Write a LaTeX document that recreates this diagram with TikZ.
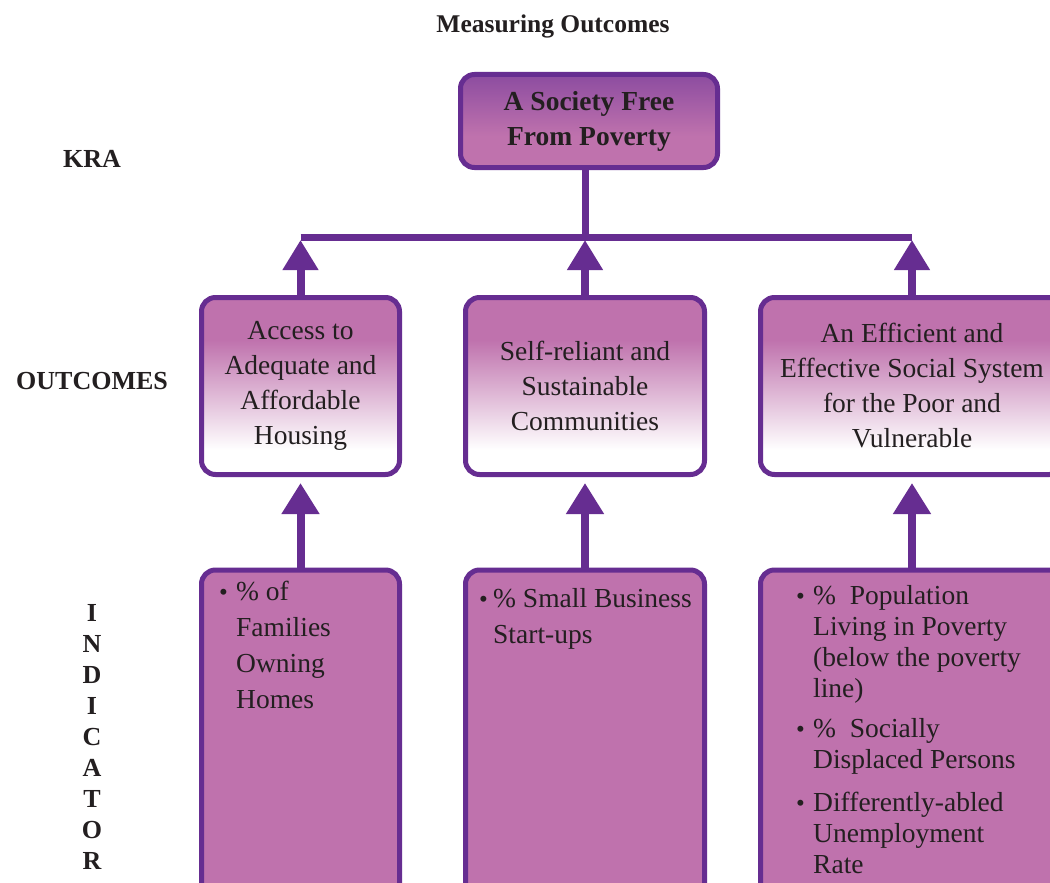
\documentclass[tikz,border=0pt]{standalone}
\usepackage{fontspec}
\setmainfont{Liberation Serif}
\usetikzlibrary{arrows.meta}

\definecolor{edge}{RGB}{102,45,145}
\definecolor{pinkfill}{RGB}{191,114,173}
\definecolor{darkfill}{RGB}{140,76,160}
\definecolor{ink}{RGB}{35,31,32}

% outcome boxes: pink on top, fading to white towards the bottom
\pgfdeclareverticalshading{outfade}{100bp}{color(0bp)=(white); color(32bp)=(white); color(63bp)=(pinkfill); color(100bp)=(pinkfill)}
% top box: deeper purple at the top
\pgfdeclareverticalshading{krafade}{100bp}{color(0bp)=(pinkfill); color(42bp)=(pinkfill); color(75bp)=(darkfill); color(100bp)=(darkfill)}

\newcommand\bul[1][16pt]{\makebox[#1][l]{\fontsize{25}{25}\selectfont\textbullet}}

\tikzset{
  box/.style={draw=edge, line width=5pt, rounded corners=14pt, inner sep=0pt},
  outbox/.style={box, shade, shading=outfade, minimum height=177pt, align=center,
    font=\fontsize{27.5}{35}\selectfont, text=ink},
  indbox/.style={box, fill=pinkfill, minimum height=345pt, anchor=north},
  itext/.style={anchor=base west, inner sep=0pt, text=ink},
  lab/.style={anchor=base, inner sep=0pt, text=ink, font=\bfseries\fontsize{26}{31}\selectfont},
  wire/.style={draw=edge, line width=7pt},
  upbig/.style={draw=edge, line width=8pt, -{Triangle[width=34pt,length=30pt]}},
  uplow/.style={draw=edge, line width=8pt, -{Triangle[width=36pt,length=31pt]}},
}

\begin{document}
\begin{tikzpicture}[x=1pt, y=-1pt]
\fill[white] (0,0) rectangle (1050,883);
\useasboundingbox (0,0) rectangle (1050,883);
\clip (0,0) rectangle (1050,883);

% headings
\node[lab, font=\bfseries\fontsize{25.5}{31}\selectfont] (title) at (553,33) {Measuring Outcomes};
\node[lab] (kralab) at (92,167) {KRA};
\node[lab] (outlab) at (92,389) {OUTCOMES};
\node[lab] (indlab) at (92,621) {\begin{tabular}[t]{@{}c@{}}I\\N\\D\\I\\C\\A\\T\\O\\R\end{tabular}};

% key result area
\node[box, shade, shading=krafade, minimum width=257pt, minimum height=93pt, align=center,
      font=\bfseries\fontsize{27.5}{35}\selectfont, text=ink] (kra) at (589,121)
      {A Society Free\\From Poverty};

% outcomes
\node[outbox, minimum width=198pt] (o1) at (300.5,386) {Access to\\Adequate and\\Affordable\\Housing};
\node[outbox, minimum width=239pt] (o2) at (585,386) {Self-reliant and\\Sustainable\\Communities};
\node[outbox, minimum width=303pt] (o3) at (912,386) {An Efficient and\\Effective Social System\\for the Poor and\\Vulnerable};

% indicators
\node[indbox, minimum width=198pt] (i1) at (300.5,567.5) {};
\node[indbox, minimum width=239pt] (i2) at (585,567.5) {};
\node[indbox, minimum width=303pt] (i3) at (912,567.5) {};

\node[itext, font=\fontsize{27.5}{36}\selectfont] (t1) at (219,600)
  {\begin{tabular}[t]{@{}l@{}l@{}}\bul[17pt] & \% of\\ & Families\\ & Owning\\ & Homes\end{tabular}};
\node[itext, font=\fontsize{27.5}{36}\selectfont] (t2) at (479,607)
  {\begin{tabular}[t]{@{}l@{}l@{}}\bul[14pt] & \% Small Business\\ & Start-ups\end{tabular}};
\node[itext, font=\fontsize{27.5}{31}\selectfont] (t3) at (796,604)
  {\begin{tabular}[t]{@{}l@{}l@{}}\bul[17pt] & \%\ \ Population\\ & Living in Poverty\\ & (below the poverty\\ & line)\\[9pt]
   \bul[17pt] & \%\ \ Socially\\ & Displaced Persons\\[12pt]
   \bul[17pt] & Differently-abled\\ & Unemployment\\ & Rate\end{tabular}};

% connectors
\coordinate (hub) at (585,237);
\coordinate (tiphigh) at (0,240);
\coordinate (tiplow) at (0,483);
\draw[wire] (kra.south -| o2.north) -- (hub);
\draw[wire] (o1.north |- hub) -- (o3.north |- hub);
\draw[upbig] (o1.north) -- (o1.north |- tiphigh);
\draw[upbig] (o2.north) -- (o2.north |- tiphigh);
\draw[upbig] (o3.north) -- (o3.north |- tiphigh);
\draw[uplow] (i1.north) -- (i1.north |- tiplow);
\draw[uplow] (i2.north) -- (i2.north |- tiplow);
\draw[uplow] (i3.north) -- (i3.north |- tiplow);
\end{tikzpicture}
\end{document}
